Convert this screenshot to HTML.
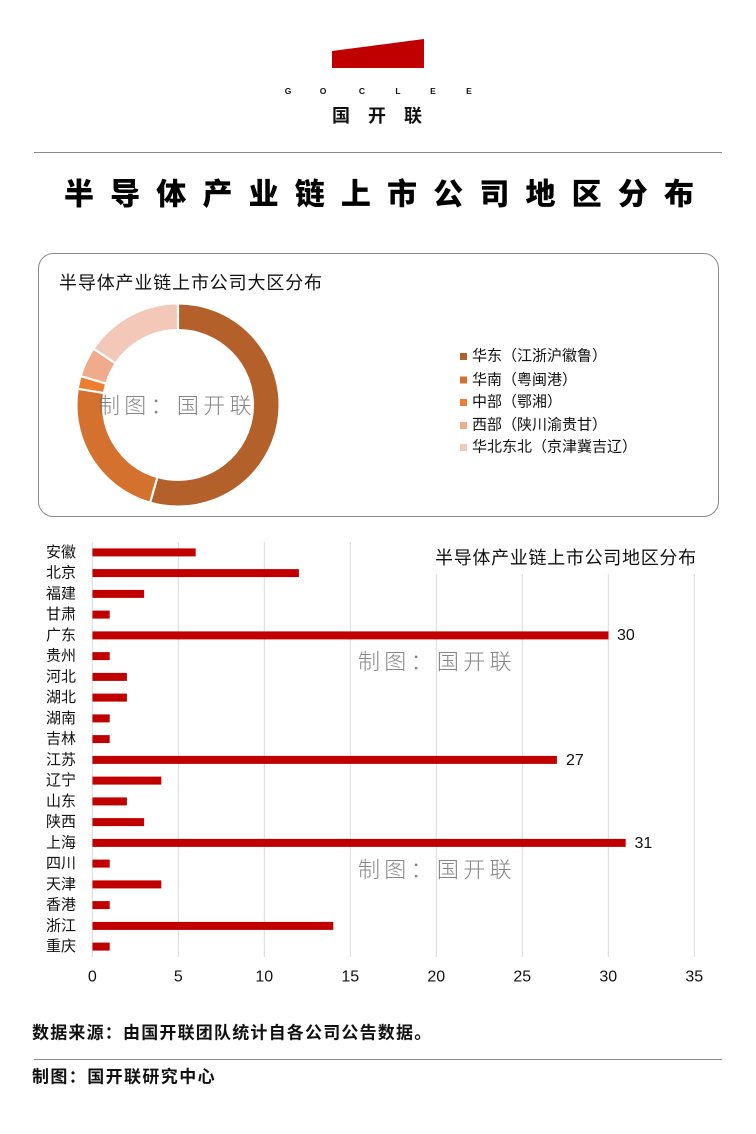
<!DOCTYPE html>
<html>
<head>
<meta charset="utf-8">
<style>
html,body{margin:0;padding:0;background:#fff;}
body{width:756px;height:1134px;overflow:hidden;}
svg{display:block;}
text{font-family:"Liberation Sans","Noto Sans CJK SC",sans-serif;}
.cjk{font-family:"Noto Sans CJK SC",sans-serif;}
</style>
</head>
<body>
<svg width="756" height="1134" viewBox="0 0 756 1134" xmlns="http://www.w3.org/2000/svg">
<rect width="756" height="1134" fill="#fff"/>

<!-- Logo -->
<polygon points="332,51 424,39 424,68 332,68" fill="#C00000"/>
<g font-size="8.5" font-weight="700" fill="#111" text-anchor="middle" dominant-baseline="central">
<text x="288" y="91">G</text><text x="323" y="91">O</text><text x="362" y="91">C</text>
<text x="398" y="91">L</text><text x="433" y="91">E</text><text x="469" y="91">E</text>
</g>
<g class="cjk" font-size="18" font-weight="700" fill="#111" text-anchor="middle" dominant-baseline="central">
<text x="341" y="116">国</text><text x="377" y="116">开</text><text x="413" y="116">联</text>
</g>

<!-- Top line -->
<line x1="34" y1="152.5" x2="722" y2="152.5" stroke="#8a8a8a" stroke-width="1"/>

<!-- Title -->
<g class="cjk" font-size="30" font-weight="900" fill="#000" text-anchor="middle" dominant-baseline="central">
<text x="79" y="195">半</text>
<text x="125.15" y="195">导</text>
<text x="171.3" y="195">体</text>
<text x="217.45" y="195">产</text>
<text x="263.6" y="195">业</text>
<text x="309.75" y="195">链</text>
<text x="355.9" y="195">上</text>
<text x="402.05" y="195">市</text>
<text x="448.2" y="195">公</text>
<text x="494.35" y="195">司</text>
<text x="540.5" y="195">地</text>
<text x="586.65" y="195">区</text>
<text x="632.8" y="195">分</text>
<text x="678.95" y="195">布</text>
</g>

<!-- Donut box -->
<rect x="38.5" y="253.5" width="680" height="263" rx="15" ry="15" fill="none" stroke="#8a8a8a" stroke-width="1"/>
<text x="59" y="283" font-size="18" fill="#111" letter-spacing="0.85" dominant-baseline="central">半导体产业链上市公司大区分布</text>

<!-- Donut -->
<g transform="rotate(-90 178 405)" fill="none" stroke-width="24.5">
<circle cx="178" cy="405" r="88.25" stroke="#B4602A" stroke-dasharray="301.77 600" stroke-dashoffset="0"/>
<circle cx="178" cy="405" r="88.25" stroke="#D5712E" stroke-dasharray="128.25 600" stroke-dashoffset="-301.77"/>
<circle cx="178" cy="405" r="88.25" stroke="#ED7D31" stroke-dasharray="11.32 600" stroke-dashoffset="-430.02"/>
<circle cx="178" cy="405" r="88.25" stroke="#F0AA8C" stroke-dasharray="26.40 600" stroke-dashoffset="-441.34"/>
<circle cx="178" cy="405" r="88.25" stroke="#F4C8B8" stroke-dasharray="86.76 600" stroke-dashoffset="-467.74"/>
</g>
<g stroke="#fff" stroke-width="2.2">
<line x1="178" y1="331" x2="178" y2="302"/>
<line x1="157.7" y1="476.2" x2="149.75" y2="504.0"/>
<line x1="104.95" y1="393.2" x2="76.3" y2="388.6"/>
<line x1="107.06" y1="383.95" x2="79.25" y2="375.7"/>
<line x1="116.4" y1="363.97" x2="92.3" y2="347.9"/>
</g>
<text x="98" y="406" font-size="22" font-weight="300" fill="#6f6f6f" fill-opacity="0.85" letter-spacing="4.3" dominant-baseline="central">制图：国开联</text>

<!-- Legend -->
<g>
<rect x="460" y="353" width="7" height="7" fill="#B4602A"/>
<rect x="460" y="376.5" width="7" height="7" fill="#D5712E"/>
<rect x="460" y="399" width="7" height="7" fill="#ED7D31"/>
<rect x="460" y="422" width="7" height="7" fill="#F0AA8C"/>
<rect x="460" y="444" width="7" height="7" fill="#F4C8B8"/>
</g>
<g font-size="15" fill="#111" dominant-baseline="central">
<text x="472" y="356">华东（江浙沪徽鲁）</text>
<text x="472" y="380">华南（粤闽港）</text>
<text x="472" y="402">中部（鄂湘）</text>
<text x="472" y="425">西部（陕川渝贵甘）</text>
<text x="472" y="447">华北东北（京津冀吉辽）</text>
</g>

<!-- Bar chart gridlines -->
<g stroke="#d9d9d9" stroke-width="1">
<line x1="92.3" y1="542" x2="92.3" y2="957"/>
<line x1="178.3" y1="542" x2="178.3" y2="957"/>
<line x1="264.3" y1="542" x2="264.3" y2="957"/>
<line x1="350.3" y1="542" x2="350.3" y2="957"/>
<line x1="436.3" y1="542" x2="436.3" y2="957"/>
<line x1="522.3" y1="542" x2="522.3" y2="957"/>
<line x1="608.3" y1="542" x2="608.3" y2="957"/>
<line x1="694.3" y1="542" x2="694.3" y2="957"/>
</g>
<rect x="425" y="538" width="285" height="36" fill="#fff"/>
<text x="435" y="558" font-size="18" fill="#111" letter-spacing="0.7" dominant-baseline="central">半导体产业链上市公司地区分布</text>

<!-- Bars -->
<g fill="#C00000">
<rect x="92.5" y="548.4" width="103.2" height="8"/>
<rect x="92.5" y="569.1" width="206.4" height="8"/>
<rect x="92.5" y="589.9" width="51.6" height="8"/>
<rect x="92.5" y="610.6" width="17.2" height="8"/>
<rect x="92.5" y="631.4" width="516" height="8"/>
<rect x="92.5" y="652.1" width="17.2" height="8"/>
<rect x="92.5" y="672.9" width="34.4" height="8"/>
<rect x="92.5" y="693.6" width="34.4" height="8"/>
<rect x="92.5" y="714.4" width="17.2" height="8"/>
<rect x="92.5" y="735.1" width="17.2" height="8"/>
<rect x="92.5" y="755.9" width="464.4" height="8"/>
<rect x="92.5" y="776.6" width="68.8" height="8"/>
<rect x="92.5" y="797.4" width="34.4" height="8"/>
<rect x="92.5" y="818.1" width="51.6" height="8"/>
<rect x="92.5" y="838.9" width="533.2" height="8"/>
<rect x="92.5" y="859.6" width="17.2" height="8"/>
<rect x="92.5" y="880.4" width="68.8" height="8"/>
<rect x="92.5" y="901.1" width="17.2" height="8"/>
<rect x="92.5" y="921.9" width="240.8" height="8"/>
<rect x="92.5" y="942.6" width="17.2" height="8"/>
</g>

<!-- Category labels -->
<g font-size="15" fill="#111" text-anchor="end" dominant-baseline="central">
<text x="76" y="552.4">安徽</text>
<text x="76" y="573.1">北京</text>
<text x="76" y="593.9">福建</text>
<text x="76" y="614.6">甘肃</text>
<text x="76" y="635.4">广东</text>
<text x="76" y="656.1">贵州</text>
<text x="76" y="676.9">河北</text>
<text x="76" y="697.6">湖北</text>
<text x="76" y="718.4">湖南</text>
<text x="76" y="739.1">吉林</text>
<text x="76" y="759.9">江苏</text>
<text x="76" y="780.6">辽宁</text>
<text x="76" y="801.4">山东</text>
<text x="76" y="822.1">陕西</text>
<text x="76" y="842.9">上海</text>
<text x="76" y="863.6">四川</text>
<text x="76" y="884.4">天津</text>
<text x="76" y="905.1">香港</text>
<text x="76" y="925.9">浙江</text>
<text x="76" y="946.6">重庆</text>
</g>

<!-- Value labels -->
<g font-size="16" fill="#111" dominant-baseline="central">
<text x="617" y="635.4">30</text>
<text x="566" y="760.4">27</text>
<text x="634.5" y="843.4">31</text>
</g>

<!-- X tick labels -->
<g font-size="16" fill="#111" text-anchor="middle" dominant-baseline="central">
<text x="92.3" y="977">0</text>
<text x="178.3" y="977">5</text>
<text x="264.3" y="977">10</text>
<text x="350.3" y="977">15</text>
<text x="436.3" y="977">20</text>
<text x="522.3" y="977">25</text>
<text x="608.3" y="977">30</text>
<text x="694.3" y="977">35</text>
</g>

<!-- Bar watermarks -->
<g font-size="22" font-weight="300" fill="#6f6f6f" fill-opacity="0.85" letter-spacing="4.3" dominant-baseline="central">
<text x="358" y="662">制图：国开联</text>
<text x="358" y="870">制图：国开联</text>
</g>

<!-- Footer -->
<text x="32" y="1033" font-size="17" font-weight="700" fill="#111" letter-spacing="1.2" dominant-baseline="central">数据来源：由国开联团队统计自各公司公告数据。</text>
<line x1="34" y1="1059.5" x2="722" y2="1059.5" stroke="#8a8a8a" stroke-width="1"/>
<text x="32" y="1077" font-size="17" font-weight="700" fill="#111" letter-spacing="1.4" dominant-baseline="central">制图：国开联研究中心</text>
</svg>
</body>
</html>
